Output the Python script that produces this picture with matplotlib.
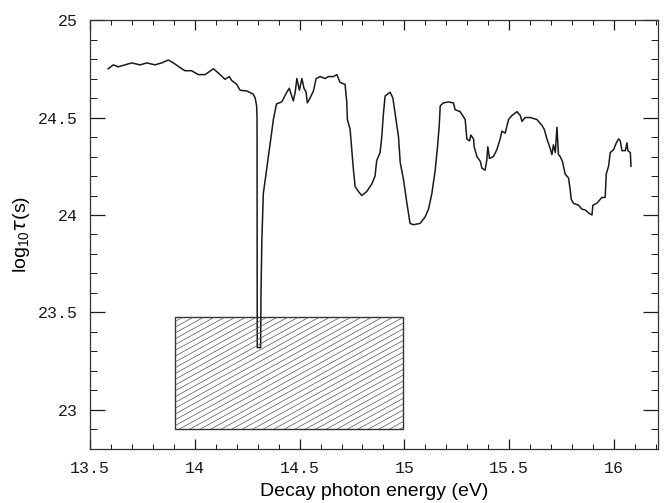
import numpy as np
import matplotlib
matplotlib.use('Agg')
from matplotlib import pyplot as plt
from matplotlib.patches import Rectangle
from matplotlib.ticker import MultipleLocator

# decay photon energy (eV) and log10 tau (s)
energy = [13.587, 13.611, 13.635, 13.667, 13.699, 13.739, 13.771, 13.810, 13.842,
          13.874, 13.898, 13.930, 13.953, 13.985, 14.017, 14.049, 14.089, 14.121,
          14.144, 14.165, 14.176, 14.200, 14.216, 14.248, 14.279, 14.288, 14.295,
          14.297, 14.298, 14.314, 14.316, 14.320, 14.327, 14.345, 14.360, 14.375, 14.390,
          14.415, 14.439, 14.451, 14.463, 14.470, 14.479, 14.487, 14.499, 14.511,
          14.521, 14.531, 14.537, 14.550, 14.566, 14.579, 14.598, 14.622, 14.637,
          14.661, 14.678, 14.693, 14.717, 14.725, 14.728, 14.741, 14.749, 14.757,
          14.765, 14.781, 14.797, 14.820, 14.845, 14.860, 14.868, 14.884, 14.892,
          14.900, 14.908, 14.932, 14.945, 14.956, 14.972, 14.980, 14.996, 15.012,
          15.027, 15.043, 15.075, 15.099, 15.115, 15.131, 15.147, 15.158, 15.166,
          15.171, 15.186, 15.210, 15.234, 15.242, 15.266, 15.290, 15.298, 15.311,
          15.317, 15.330, 15.333, 15.346, 15.362, 15.370, 15.385, 15.393, 15.398,
          15.406, 15.425, 15.441, 15.457, 15.465, 15.481, 15.497, 15.513, 15.537,
          15.553, 15.561, 15.576, 15.600, 15.632, 15.656, 15.667, 15.680, 15.696,
          15.704, 15.711, 15.720, 15.728, 15.735, 15.743, 15.754, 15.767, 15.783,
          15.791, 15.796, 15.807, 15.831, 15.847, 15.863, 15.879, 15.895, 15.899,
          15.918, 15.942, 15.958, 15.963, 15.974, 15.982, 15.998, 16.011, 16.022,
          16.030, 16.038, 16.054, 16.062, 16.066, 16.078, 16.081]
log_tau = [24.75, 24.77, 24.76, 24.77, 24.78, 24.77, 24.78, 24.77, 24.78,
           24.795, 24.78, 24.756, 24.74, 24.74, 24.72, 24.72, 24.75, 24.72,
           24.696, 24.71, 24.69, 24.67, 24.64, 24.636, 24.62, 24.60, 24.56,
           24.50, 23.32, 23.32, 23.61, 23.87, 24.11, 24.25, 24.37, 24.49, 24.57,
           24.58, 24.63, 24.65, 24.61, 24.585, 24.63, 24.70, 24.64, 24.70,
           24.65, 24.63, 24.575, 24.60, 24.636, 24.70, 24.71, 24.70, 24.71,
           24.71, 24.72, 24.68, 24.67, 24.58, 24.49, 24.44, 24.335, 24.23,
           24.146, 24.12, 24.10, 24.12, 24.16, 24.20, 24.28, 24.32, 24.40,
           24.52, 24.61, 24.63, 24.60, 24.52, 24.40, 24.27, 24.18, 24.06,
           23.957, 23.95, 23.957, 23.99, 24.03, 24.11, 24.23, 24.35, 24.455,
           24.56, 24.575, 24.58, 24.575, 24.54, 24.53, 24.49, 24.39, 24.38,
           24.41, 24.39, 24.35, 24.30, 24.275, 24.24, 24.23, 24.28, 24.35,
           24.29, 24.30, 24.335, 24.39, 24.43, 24.42, 24.49, 24.51, 24.53,
           24.51, 24.48, 24.50, 24.50, 24.49, 24.46, 24.44, 24.39, 24.34,
           24.31, 24.36, 24.32, 24.45, 24.31, 24.30, 24.275, 24.21, 24.19,
           24.13, 24.08, 24.06, 24.05, 24.03, 24.026, 24.01, 24.00, 24.05,
           24.06, 24.09, 24.09, 24.21, 24.25, 24.32, 24.335, 24.37, 24.39,
           24.38, 24.33, 24.33, 24.37, 24.33, 24.32, 24.25]

# hatched box
box_e = [13.905, 14.995]
box_tau = [22.90, 23.475]

fig = plt.figure(figsize=(6.65, 5.03), dpi=100)
ax = fig.add_axes([0.1353, 0.1074, 0.8542, 0.8528])

ink = '#1a1a1a'
ax.plot(energy, log_tau, color=ink, lw=1.1)

rect = Rectangle((box_e[0], box_tau[0]), box_e[1] - box_e[0], box_tau[1] - box_tau[0],
                 fill=False, edgecolor='#333333', lw=1.0)
ax.add_patch(rect)
# slanted hatch lines, clipped to the box
xs = np.array([0.0, 1.0])
for c in np.arange(-1.0, 1.0, 0.0135):
    ln, = ax.plot(xs, c + 0.73 * xs, transform=ax.transAxes, color='#555555', lw=0.5)
    ln.set_clip_path(rect)

ax.set_xlim(13.5, 16.21)
ax.set_ylim(22.8, 25.0)
ax.xaxis.set_major_locator(MultipleLocator(0.5))
ax.xaxis.set_minor_locator(MultipleLocator(0.1))
ax.yaxis.set_major_locator(MultipleLocator(0.5))
ax.yaxis.set_minor_locator(MultipleLocator(0.1))
ax.set_xticks([13.5, 14, 14.5, 15, 15.5, 16])
ax.set_xticklabels(['13.5', '14', '14.5', '15', '15.5', '16'])
ax.set_yticks([23, 23.5, 24, 24.5, 25])
ax.set_yticklabels(['23', '23.5', '24', '24.5', '25'])

ax.tick_params(axis='x', which='major', direction='in', length=7, width=0.9,
               top=True, bottom=True, pad=9, colors=ink)
ax.tick_params(axis='x', which='minor', direction='in', length=3.5, width=0.7,
               top=True, bottom=True, colors=ink)
ax.tick_params(axis='y', which='major', direction='in', length=11, width=0.9,
               left=True, right=True, pad=9, colors=ink)
ax.tick_params(axis='y', which='minor', direction='in', length=5, width=0.7,
               left=True, right=True, colors=ink)
for lab in ax.get_xticklabels() + ax.get_yticklabels():
    lab.set_fontfamily('Liberation Mono')
    lab.set_fontsize(12)
for s in ax.spines.values():
    s.set_linewidth(0.9)
    s.set_color('#333333')

ax.set_xlabel('Decay photon energy (eV)', fontsize=14, family='Liberation Sans', labelpad=5)
ax.set_ylabel(r'$\mathregular{log_{10}}\tau$(s)', fontsize=14, family='Liberation Sans', labelpad=4)

fig.savefig('out.png', dpi=100)
